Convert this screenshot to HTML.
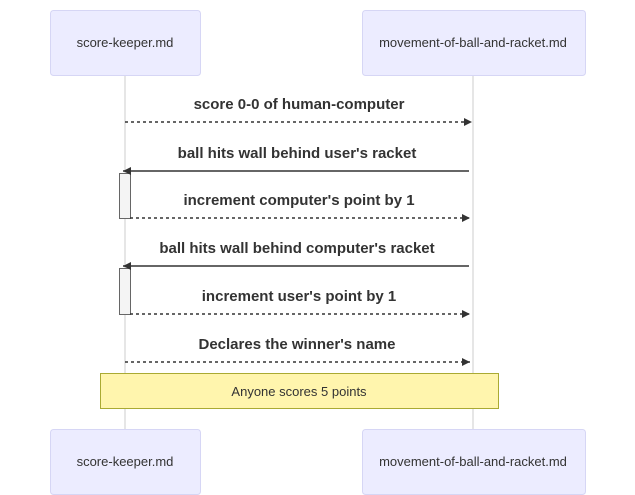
<!DOCTYPE html>
<html><head><meta charset="utf-8"><style>
html,body{margin:0;padding:0;background:#fff;width:635px;height:495px;overflow:hidden}
</style></head><body>
<svg width="635" height="495" viewBox="0 0 635 495" xmlns="http://www.w3.org/2000/svg">
<defs>
<marker id="ah" markerWidth="10" markerHeight="10" refX="8" refY="4" orient="auto" markerUnits="userSpaceOnUse">
<path d="M0,0 L8,4 L0,8 z" fill="#333"/>
</marker>
</defs>
<g stroke="#ccc" stroke-width="1">
<line x1="125" y1="75" x2="125" y2="429"/>
<line x1="473" y1="75" x2="473" y2="429"/>
</g>
<g fill="#ececff" stroke="#d6d6f5">
<rect x="50.5" y="10.5" width="150" height="65" rx="3"/>
<rect x="362.5" y="10.5" width="223" height="65" rx="3"/>
<rect x="50.5" y="429.5" width="150" height="65" rx="3"/>
<rect x="362.5" y="429.5" width="223" height="65" rx="3"/>
</g>
<g font-family="Liberation Sans, sans-serif" font-size="13" fill="#333" text-anchor="middle">
<text x="125" y="47">score-keeper.md</text>
<text x="473" y="47">movement-of-ball-and-racket.md</text>
<text x="125" y="466">score-keeper.md</text>
<text x="473" y="466">movement-of-ball-and-racket.md</text>
</g>
<g fill="#f4f4f4" stroke="#666">
<rect x="119.5" y="173.5" width="11" height="45"/>
<rect x="119.5" y="268.5" width="11" height="46"/>
</g>
<g stroke="#333" stroke-width="1.5" fill="none">
<line x1="125" y1="122" x2="472" y2="122" stroke-dasharray="3,3" marker-end="url(#ah)"/>
<line x1="469" y1="171" x2="123" y2="171" marker-end="url(#ah)"/>
<line x1="130" y1="218" x2="470" y2="218" stroke-dasharray="3,3" marker-end="url(#ah)"/>
<line x1="469" y1="266" x2="123" y2="266" marker-end="url(#ah)"/>
<line x1="130" y1="314" x2="470" y2="314" stroke-dasharray="3,3" marker-end="url(#ah)"/>
<line x1="125" y1="362" x2="470" y2="362" stroke-dasharray="3,3" marker-end="url(#ah)"/>
</g>
<g font-family="Liberation Sans, sans-serif" font-size="15" font-weight="bold" fill="#333" text-anchor="middle">
<text x="299" y="109">score 0-0 of human-computer</text>
<text x="297" y="158">ball hits wall behind user's racket</text>
<text x="299" y="205">increment computer's point by 1</text>
<text x="297" y="253">ball hits wall behind computer's racket</text>
<text x="299" y="301">increment user's point by 1</text>
<text x="297" y="349">Declares the winner's name</text>
</g>
<rect x="100.5" y="373.5" width="398" height="35" fill="#fff5ad" stroke="#aaaa33"/>
<text x="299" y="396" font-family="Liberation Sans, sans-serif" font-size="13" fill="#333" text-anchor="middle">Anyone scores 5 points</text>
</svg>
</body></html>
